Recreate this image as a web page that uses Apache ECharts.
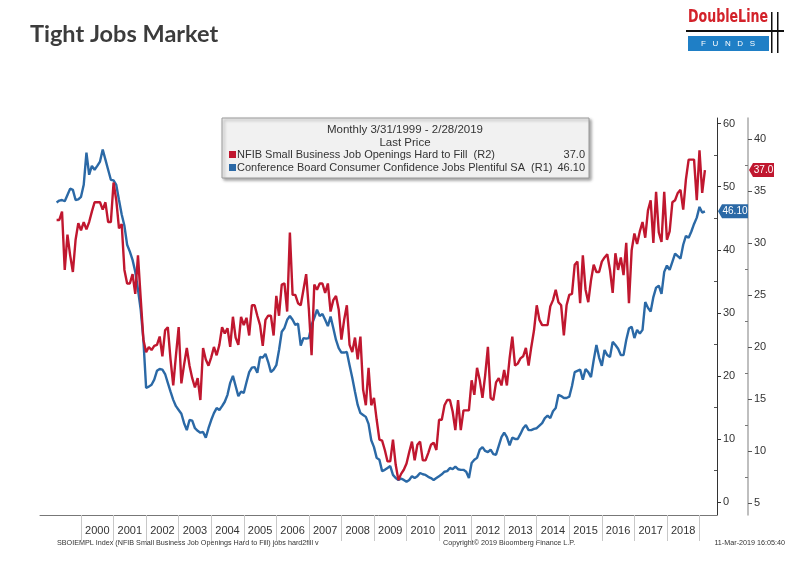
<!DOCTYPE html>
<html><head><meta charset="utf-8">
<script src="https://cdn.jsdelivr.net/npm/echarts@6/dist/echarts.min.js"></script>
<style>html,body{margin:0;padding:0;background:#fff}#c{width:804px;height:561px}</style>
</head><body><div id="c"></div>
<script>
// Conference Board Consumer Confidence Jobs Plentiful SA (R1), monthly from Mar 1999 to Feb 2019
const blueValues = [
47.5,47.8,47.9,47.7,48.7,49.7,49.5,47.9,48.0,48.4,
50.3,55.4,51.9,53.3,52.7,53.3,54.0,55.9,54.3,52.7,
51.1,51.0,50.3,47.9,45.6,43.8,40.8,39.7,38.4,36.5,
33.7,30.5,25.7,18.1,18.3,18.6,19.4,20.8,21.1,21.0,
20.3,18.9,17.5,16.2,15.2,14.6,14.0,12.5,11.4,13.0,
12.9,11.7,11.3,11.0,11.1,10.2,11.7,13.0,14.1,14.9,
14.6,15.2,15.9,17.0,18.9,20.0,18.4,16.8,17.5,17.3,
19.0,20.6,21.3,21.4,20.5,23.0,22.9,23.5,22.2,20.6,
21.0,21.7,24.1,27.0,27.6,28.9,29.5,28.9,28.1,28.3,
24.8,26.0,25.9,26.0,28.1,29.2,30.5,29.5,29.8,28.9,
27.9,29.4,27.6,25.7,24.4,23.7,23.7,23.8,21.7,19.7,
17.5,15.4,14.1,13.8,13.5,12.4,9.8,8.7,7.0,6.7,
4.9,5.1,5.4,5.7,4.3,3.8,3.5,3.7,3.5,3.2,
3.5,4.1,3.8,4.1,4.6,4.4,4.3,4.0,3.8,3.5,
3.8,4.1,4.4,4.8,4.9,5.4,5.2,5.6,5.2,5.1,
5.1,4.8,3.8,6.2,6.7,7.0,8.3,8.7,8.1,7.9,
8.3,7.6,7.5,8.9,10.3,11.0,10.3,9.0,10.2,10.0,
10.0,10.8,11.7,12.2,11.4,11.4,11.6,11.7,12.1,12.5,
13.3,13.7,13.3,14.4,14.9,17.0,16.8,16.5,16.5,16.7,
18.4,20.6,20.8,21.0,19.4,21.1,20.6,19.8,22.5,24.9,
22.9,21.6,24.1,23.3,23.0,25.4,24.9,24.3,23.3,23.3,
25.7,27.5,27.8,26.0,27.3,26.7,27.3,31.7,30.8,30.2,
32.5,34.0,34.3,33.0,36.5,37.5,36.8,38.1,39.4,39.0,
38.6,40.8,42.2,41.9,42.9,44.1,45.1,46.8,45.9,46.1
];
// NFIB Small Business Job Openings Hard to Fill (R2), monthly from Mar 1999 to Feb 2019
const redValues = [
32.2,32.2,33.0,27.4,30.8,28.8,27.2,30.3,31.9,31.2,
32.0,31.3,32.0,33.0,33.9,33.9,33.9,33.2,33.9,32.0,
32.0,35.8,34.1,31.4,31.8,27.4,26.1,26.1,27.0,25.1,
28.8,24.7,20.7,19.5,20.0,19.7,20.1,20.2,21.0,19.1,
21.6,21.9,18.8,16.3,19.2,21.9,16.5,18.3,19.9,18.2,
17.0,16.1,17.0,14.9,19.9,18.8,18.2,19.0,20.0,19.2,
20.2,21.9,21.3,21.8,20.0,22.9,20.9,20.2,22.9,22.1,
22.8,21.1,24.0,24.0,23.0,22.1,20.1,22.6,23.0,23.0,
21.1,24.9,23.0,26.0,26.1,23.4,31.0,25.0,25.0,24.2,
24.0,25.5,27.0,23.6,19.2,26.0,25.5,26.1,26.1,25.2,
26.1,23.4,24.5,24.9,23.6,20.7,22.6,24.0,20.2,19.5,
20.9,18.8,21.0,15.9,14.4,18.0,14.4,15.1,13.0,11.1,
11.0,10.1,9.0,9.0,11.1,8.7,7.2,7.8,8.2,8.8,
9.9,10.9,9.1,10.6,10.9,9.1,9.1,9.8,10.6,10.8,
10.1,13.0,13.0,14.4,14.9,14.9,13.8,12.0,14.9,12.0,
13.9,13.9,13.9,16.8,15.4,18.0,16.8,15.1,17.3,20.0,
15.1,14.9,16.6,17.0,16.3,17.8,16.3,18.9,21.0,18.2,
18.4,18.9,19.1,19.9,18.2,20.0,21.6,24.0,22.6,22.1,
22.1,22.1,23.9,24.5,25.5,24.3,24.0,21.1,24.0,25.0,
25.1,27.9,28.2,24.2,28.8,25.5,24.3,26.4,27.9,27.2,
27.2,28.2,28.6,28.9,27.4,25.2,29.0,27.4,28.6,26.9,
30.0,24.2,29.3,30.9,29.9,31.1,32.0,30.5,33.1,34.1,
30.0,34.9,31.0,30.1,34.9,30.3,31.1,33.9,34.1,34.8,
35.1,33.2,36.1,38.0,38.0,38.0,34.1,38.9,34.8,37.0
];
const firstYear = 1999, firstMonth = 3; // March 1999 month-end
const yearLabels = [2000,2001,2002,2003,2004,2005,2006,2007,2008,2009,2010,2011,2012,2013,2014,2015,2016,2017,2018];
const yearBounds = [2000,2001,2002,2003,2004,2005,2006,2007,2008,2009,2010,2011,2012,2013,2014,2015,2016,2017,2018,2019];
const r1Ticks = [0,10,20,30,40,50,60];
const r1Minor = [5,15,25,35,45,55];
const r2Ticks = [5,10,15,20,25,30,35,40];
const r2Minor = [7.5,12.5,17.5,22.5,27.5,32.5,37.5];
const redName = 'NFIB Small Business Job Openings Hard to Fill  (R2)';
const blueName = 'Conference Board Consumer Confidence Jobs Plentiful SA  (R1)';
const redLast = '37.0', blueLast = '46.10';
const RED = '#c0172f', BLUE = '#2b69a6';

// month-end of month index i expressed as decimal year
const monthEnd = i => firstYear + (firstMonth + i) / 12;
const redData = redValues.map((v, i) => [monthEnd(i), v]);
const blueData = blueValues.map((v, i) => [monthEnd(i), v]);

const FONT = 'Liberation Sans';
const chart = echarts.init(document.getElementById('c'), null, {renderer: 'canvas'});

const yBase = {type: 'value', position: 'right', splitLine: {show: false}, scale: false};

const option = {
  animation: false,
  backgroundColor: '#ffffff',
  grid: {left: 40, right: 87, top: 118, bottom: 46},
  xAxis: {
    type: 'value', min: 1998.74, max: 2019.538,
    axisLine: {show: true, onZero: false, lineStyle: {color: '#777', width: 1}},
    axisTick: {show: true, customValues: yearBounds, length: 26, lineStyle: {color: '#c8c8c8'}},
    axisLabel: {customValues: yearLabels.map(y => y + 0.5), formatter: v => String(Math.floor(v)),
      color: '#333', fontSize: 11, fontFamily: FONT, margin: 10},
    splitLine: {show: false}
  },
  yAxis: [
    Object.assign({}, yBase, {min: -2.06, max: 60.9, offset: 0,
      axisLine: {show: true, onZero: false, lineStyle: {color: '#333', width: 1}},
      axisTick: {show: true, customValues: r1Ticks, length: 4, lineStyle: {color: '#333'}},
      axisLabel: {customValues: r1Ticks, color: '#333', fontSize: 11, fontFamily: FONT, margin: 6}}),
    Object.assign({}, yBase, {min: 3.85, max: 42.0, offset: 31,
      axisLine: {show: true, onZero: false, lineStyle: {color: '#aaa', width: 1.5}},
      axisTick: {show: true, customValues: r2Ticks, length: 4, lineStyle: {color: '#555'}},
      axisLabel: {customValues: r2Ticks, color: '#333', fontSize: 11, fontFamily: FONT, margin: 6}}),
    Object.assign({}, yBase, {min: -2.06, max: 60.9, offset: 0,
      axisLine: {show: false},
      axisTick: {show: true, inside: true, customValues: r1Minor, length: 3, lineStyle: {color: '#555'}},
      axisLabel: {show: false}}),
    Object.assign({}, yBase, {min: 3.85, max: 42.0, offset: 31,
      axisLine: {show: false},
      axisTick: {show: true, inside: true, customValues: r2Minor, length: 3, lineStyle: {color: '#777'}},
      axisLabel: {show: false}})
  ],
  series: [
    {name: blueName, type: 'line', yAxisIndex: 0, data: blueData, showSymbol: false, symbol: 'none',
      lineStyle: {color: BLUE, width: 2.4}, z: 3},
    {name: redName, type: 'line', yAxisIndex: 1, data: redData, showSymbol: false, symbol: 'none',
      lineStyle: {color: RED, width: 2.4}, z: 4}
  ]
};
chart.setOption(option);

// value tags on the axes, positioned through the axis scales
const redY = chart.convertToPixel({yAxisIndex: 1}, parseFloat(redLast));
const blueY = chart.convertToPixel({yAxisIndex: 0}, parseFloat(blueLast));
function tag(xTip, w, y, color, txt) {
  return [
    {type: 'polygon', z: 20, shape: {points: [[xTip, y], [xTip + 4, y - 7], [xTip + w, y - 7], [xTip + w, y + 7], [xTip + 4, y + 7]]},
      style: {fill: color}},
    {type: 'text', z: 21, x: xTip + 4 + (w - 4) / 2, y: y, style: {text: txt, fill: '#fff', font: '10px ' + FONT, align: 'center', verticalAlign: 'middle'}}
  ];
}

const LF = '11px ' + FONT;
const graphics = [
  // title
  {type: 'text', x: 30, y: 22, style: {text: 'Tight Jobs Market', font: 'bold 23.5px Lato', fill: '#3c3c3c'}},
  // logo
  {type: 'text', x: 688, y: 8, scaleX: 0.78, style: {text: 'DoubleLine', font: 'bold 18px "DejaVu Sans Condensed"', fill: '#d3222a'}},
  {type: 'rect', shape: {x: 686, y: 30, width: 98, height: 2}, style: {fill: '#111'}},
  {type: 'rect', shape: {x: 688, y: 36, width: 81, height: 15}, style: {fill: '#1f7fc6'}},
  {type: 'text', x: 728, y: 43.5, style: {text: 'F   U   N   D   S', font: '8px ' + FONT, fill: '#fff', align: 'center', verticalAlign: 'middle'}},
  {type: 'rect', shape: {x: 771, y: 12, width: 1.5, height: 41}, style: {fill: '#111'}},
  {type: 'rect', shape: {x: 777, y: 12, width: 1.5, height: 41}, style: {fill: '#111'}},
  // legend box
  {type: 'rect', z: 10, shape: {x: 222, y: 118, width: 367, height: 60},
    style: {fill: '#f1f1f1', stroke: '#9a9a9a', lineWidth: 1, shadowBlur: 3, shadowColor: 'rgba(0,0,0,0.35)', shadowOffsetX: 2, shadowOffsetY: 2}},
  {type: 'text', z: 11, x: 405, y: 130, style: {text: 'Monthly 3/31/1999 - 2/28/2019', font: '11.5px ' + FONT, fill: '#333', align: 'center', verticalAlign: 'middle'}},
  {type: 'text', z: 11, x: 405, y: 142.5, style: {text: 'Last Price', font: '11.5px ' + FONT, fill: '#333', align: 'center', verticalAlign: 'middle'}},
  {type: 'rect', z: 11, shape: {x: 229, y: 151, width: 7, height: 7}, style: {fill: RED}},
  {type: 'text', z: 11, x: 237, y: 155, style: {text: redName, font: LF, fill: '#333', verticalAlign: 'middle'}},
  {type: 'text', z: 11, x: 585, y: 155, style: {text: redLast, font: LF, fill: '#333', align: 'right', verticalAlign: 'middle'}},
  {type: 'rect', z: 11, shape: {x: 229, y: 164, width: 7, height: 7}, style: {fill: BLUE}},
  {type: 'text', z: 11, x: 237, y: 168, style: {text: blueName, font: LF, fill: '#333', verticalAlign: 'middle'}},
  {type: 'text', z: 11, x: 585, y: 168, style: {text: blueLast, font: LF, fill: '#333', align: 'right', verticalAlign: 'middle'}},
  // footer
  {type: 'text', x: 57, y: 543, style: {text: 'SBOIEMPL Index (NFIB Small Business Job Openings Hard to Fill) jobs hard2fill v', font: '7.2px ' + FONT, fill: '#333', verticalAlign: 'middle'}},
  {type: 'text', x: 443, y: 543, style: {text: 'Copyright\u00a9 2019 Bloomberg Finance L.P.', font: '7.2px ' + FONT, fill: '#333', verticalAlign: 'middle'}},
  {type: 'text', x: 785, y: 543, style: {text: '11-Mar-2019 16:05:40', font: '7.2px ' + FONT, fill: '#333', align: 'right', verticalAlign: 'middle'}}
].concat(tag(749, 25, redY, RED, redLast), tag(718, 30, blueY, BLUE, blueLast));

chart.setOption({graphic: {elements: graphics}});
</script></body></html>
